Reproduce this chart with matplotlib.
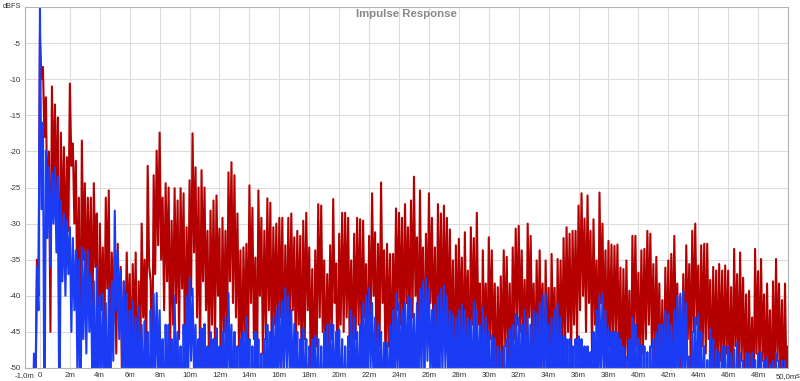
import numpy as np
import matplotlib
matplotlib.use("Agg")
import matplotlib.pyplot as plt

plt.rcParams['font.family'] = ['Liberation Sans', 'DejaVu Sans']

# peak / dip levels (dBFS), one pair every 0.2 ms starting at -1.0 ms
red_peak = [
    -60, -60, -60, -50, -35, -4.2, -8.3, -12.5, -20, -11,
    -13.5, -15.3, -17.4, -19.4, -20.8, -10.6, -18.9, -21.3, -26.4, -18.5,
    -24.4, -26.4, -26.4, -24.4, -28.6, -30, -33.3, -26.4, -25.4, -34,
    -34.5, -32.8, -36, -38, -34, -37, -35.6, -34, -38, -30,
    -35, -22, -38, -23.3, -19.9, -17.4, -26.4, -24.4, -25, -29.6,
    -25.1, -26.8, -25.1, -25.8, -30.5, -24, -17.5, -22.2, -25, -22.6,
    -25, -31, -28.2, -26.8, -26.1, -30.7, -29.2, -31, -22.9, -21.5,
    -23.3, -28.6, -33.7, -33.3, -32.8, -24.7, -27.8, -34.7, -25.4, -29.2,
    -31, -26.5, -27.1, -30.5, -30, -29.2, -29.2, -33, -29.2, -28.6,
    -31.9, -31, -31.7, -29.6, -28.5, -33.3, -36.3, -33.7, -27.3, -27.5,
    -35.1, -37, -33, -26.6, -35.5, -31.4, -28.5, -28.5, -29.2, -35.1,
    -31.4, -29.2, -29.4, -29.6, -35.6, -31.7, -25.8, -31.2, -32.8, -24.3,
    -33.7, -32.8, -34.2, -34.2, -27.9, -28.5, -29.2, -27.3, -30.5, -26.8,
    -23.5, -31.9, -25.4, -33.3, -31.4, -25.8, -29.2, -33.3, -27.3, -28.6,
    -27.5, -29.2, -30.8, -35.1, -33, -32.1, -34.7, -31.2, -36.5, -30.5,
    -32, -28.5, -38.3, -33.7, -38.3, -31.9, -33.7, -38.3, -38.8, -37.3,
    -33.7, -34.6, -38.3, -33.3, -30.7, -30.3, -33.7, -37.8, -30, -31.7,
    -38.3, -35.1, -33.7, -38.3, -35.1, -38.9, -34.2, -38.9, -34.9, -35.1,
    -32, -30.5, -31.4, -31, -31, -27.5, -25.8, -29.3, -26.1, -31,
    -29.4, -35.1, -25.7, -30, -33.7, -32.4, -32.9, -33.1, -32.9, -36.1,
    -36.3, -35.1, -39.3, -31.7, -31.7, -36.8, -33.7, -33.5, -31, -31.4,
    -35.6, -34.6, -38.3, -40.6, -36.1, -35.1, -34.2, -31.7, -38.3, -40.2,
    -37, -33, -35.6, -31, -30, -35.8, -33, -32.8, -32.8, -37.8,
    -36, -36.5, -35.6, -36.5, -35.8, -36.5, -38.8, -33.5, -37, -34,
    -37.5, -39.8, -39.3, -43, -33.5, -36.6, -34.9, -39.8, -38.3, -42,
    -38, -34.9, -38.3, -40.6, -38.3, -47,
]
red_dip = [
    -60, -60, -60, -55, -40, -10, -18, -30, -45, -25,
    -28, -52, -33, -36, -31, -22, -30, -42, -55, -35,
    -40, -38, -45, -36, -55, -42, -47, -39, -52, -44,
    -48, -44, -56, -47, -45, -52, -46, -58, -49, -43,
    -50, -36, -54, -37, -33, -35, -42, -38, -48, -44,
    -41, -46, -39, -52, -45, -40, -34, -43, -49, -38,
    -42, -50, -44, -47, -40, -53, -45, -48, -38, -41,
    -43, -47, -52, -45, -49, -41, -46, -55, -40, -48,
    -46, -42, -50, -44, -47, -43, -51, -48, -45, -42,
    -49, -44, -53, -46, -42, -50, -56, -47, -43, -45,
    -52, -48, -46, -41, -55, -44, -45, -43, -47, -50,
    -46, -44, -48, -43, -53, -45, -40, -49, -47, -41,
    -50, -47, -52, -46, -42, -44, -48, -41, -45, -43,
    -40, -49, -42, -51, -45, -41, -46, -53, -44, -47,
    -43, -46, -48, -54, -47, -45, -52, -46, -55, -44,
    -48, -44, -56, -47, -52, -46, -49, -55, -51, -50,
    -47, -50, -54, -46, -44, -45, -48, -53, -43, -47,
    -52, -48, -46, -55, -49, -53, -47, -56, -48, -50,
    -47, -45, -49, -44, -46, -42, -40, -45, -41, -48,
    -44, -52, -41, -46, -50, -47, -48, -45, -49, -53,
    -51, -49, -56, -45, -47, -52, -48, -46, -44, -47,
    -50, -48, -53, -57, -49, -51, -47, -45, -52, -55,
    -51, -46, -50, -45, -44, -52, -47, -48, -46, -53,
    -50, -52, -49, -51, -48, -53, -55, -47, -52, -49,
    -52, -55, -53, -58, -48, -51, -49, -54, -52, -57,
    -53, -49, -52, -56, -53, -60,
]

blue_peak = [
    -60, -60, -60, -48, -36, 0, -16, -19.9, -22.2, -23,
    -22.2, -23.5, -26.8, -28.6, -29.5, -30.5, -32, -33.7, -35, -33.3,
    -34, -33.7, -37, -38, -36, -40, -39.7, -41, -39, -38,
    -28.2, -33.7, -36.5, -38, -39.7, -42, -40.7, -43, -41.5, -44,
    -43.5, -45, -42, -39.7, -39.6, -42, -46, -44, -44, -46,
    -40, -45, -47, -44, -40, -37.5, -39, -44, -46, -44.5,
    -43.9, -47, -45, -46, -44.5, -47, -45, -43, -39.6, -44,
    -45, -47, -46, -45, -43, -46, -47, -45, -46, -48,
    -46, -44, -45, -43, -42, -41, -40.7, -38.9, -40, -42,
    -43.9, -45, -46, -44.5, -46, -47, -46, -45.5, -46, -47,
    -45, -44, -43.9, -44, -45, -44.7, -46, -47, -45.6, -42,
    -43, -45, -44, -41, -40, -38.9, -41, -43, -43.9, -45,
    -46.5, -46.5, -44, -42, -39.7, -41, -42, -41, -40, -40.4,
    -42.5, -41, -39, -38, -37.5, -39, -42, -41.2, -40, -39,
    -38.6, -40, -42, -42.5, -43, -42, -41.2, -42, -43, -43.5,
    -40.7, -42, -44, -41.6, -43, -45, -45.5, -45.9, -47, -47.8,
    -47, -46, -44.6, -44, -42.5, -43, -44, -42, -43, -44,
    -42, -42.5, -41, -40, -39.7, -43.9, -43, -42, -41.1, -43,
    -45.5, -46, -46, -47, -46, -45.6, -46, -47, -47, -47.8,
    -45, -42, -40, -39.7, -42, -44.4, -45, -45, -45.1, -46,
    -47, -48.5, -46, -43, -44, -46, -46.8, -47, -47.8, -47,
    -46, -45.1, -44, -44, -42, -42.5, -43.9, -42, -40, -39.7,
    -39.3, -41, -48.4, -45, -43, -42.5, -45, -47, -48.9, -44.6,
    -46, -47.4, -47.8, -47, -47, -47, -48, -47.4, -46.5, -48,
    -49, -48, -48, -47.8, -48.9, -48, -47.8, -49, -48.5, -49.5,
    -49, -48, -49, -49, -49, -50,
]
blue_dip = [
    -60, -60, -60, -52, -42, -28, -60, -32, -36, -30,
    -34, -60, -38, -40, -37, -45, -42, -50, -60, -46,
    -48, -45, -52, -60, -50, -55, -52, -60, -53, -49,
    -42, -46, -50, -53, -55, -58, -52, -60, -54, -57,
    -56, -60, -55, -52, -51, -57, -60, -55, -58, -60,
    -53, -58, -60, -56, -52, -49, -51, -57, -60, -56,
    -55, -60, -57, -58, -56, -60, -58, -54, -51, -56,
    -57, -60, -58, -57, -55, -59, -60, -56, -58, -60,
    -58, -55, -57, -54, -53, -52, -51, -50, -52, -54,
    -55, -57, -59, -56, -58, -60, -58, -57, -58, -60,
    -57, -56, -55, -56, -57, -56, -58, -60, -57, -54,
    -55, -57, -56, -53, -52, -50, -53, -55, -56, -57,
    -59, -58, -56, -54, -51, -53, -54, -53, -52, -52,
    -54, -53, -51, -50, -49, -51, -54, -53, -52, -51,
    -50, -52, -54, -55, -55, -54, -53, -54, -55, -56,
    -52, -54, -56, -53, -55, -57, -58, -58, -60, -60,
    -60, -58, -56, -56, -54, -55, -56, -54, -55, -56,
    -54, -55, -53, -52, -51, -56, -55, -54, -53, -55,
    -57, -58, -58, -60, -58, -57, -58, -60, -60, -60,
    -57, -54, -52, -51, -54, -56, -57, -57, -57, -58,
    -59, -60, -58, -55, -56, -58, -59, -60, -60, -59,
    -58, -57, -56, -56, -54, -54, -56, -54, -52, -51,
    -51, -53, -60, -57, -55, -54, -57, -59, -60, -56,
    -58, -60, -60, -59, -59, -59, -60, -59, -58, -60,
    -60, -60, -60, -60, -60, -60, -60, -60, -60, -60,
    -60, -60, -60, -60, -60, -60,
]

x_ticks = [-1] + list(range(0, 51, 2))
x_labels = ["-1,0m", "0"] + ["%dm" % v for v in range(2, 49, 2)] + [""]
y_ticks = list(range(-50, 0, 5))


def trace(peaks, dips):
    t = np.arange(len(peaks)) * 0.2 - 1.0
    xs = np.empty(2 * len(peaks))
    ys = np.empty(2 * len(peaks))
    xs[0::2] = t
    xs[1::2] = t + 0.1
    ys[0::2] = peaks
    ys[1::2] = dips
    return xs, ys


fig = plt.figure(figsize=(8, 3.81), dpi=100)
ax = fig.add_axes([25 / 800, 1 - 368 / 381, 763 / 800, 361 / 381])

xr, yr = trace(red_peak, red_dip)
xb, yb = trace(blue_peak, blue_dip)
ax.plot(xr, yr, color="#b40000", lw=1.5)
ax.plot(xb, yb, color="#1a3cf5", lw=1.5)

ax.set_xlim(-1, 50)
ax.set_ylim(-50, 0)
ax.set_xticks(x_ticks)
ax.set_xticklabels(x_labels)
ax.set_yticks(y_ticks)
ax.set_yticklabels([str(v) for v in y_ticks])
ax.tick_params(length=0, labelsize=5.6, colors="#333333", pad=3)
ax.grid(True, color="#dcdcdc", lw=0.8)
ax.set_axisbelow(True)
for s in ax.spines.values():
    s.set_color("#b4b4b4")
    s.set_linewidth(0.8)

ax.text(0.5, 0.995, "Impulse Response", transform=ax.transAxes, ha="center",
        va="top", fontsize=8.2, fontweight="bold", color="#888888")
fig.text(3 / 800, 1 - 3 / 381, "dBFS", ha="left", va="top", fontsize=5.3, color="#333333")
fig.text(776 / 800, 1 - 377 / 381, "50,0m", ha="left", va="center", fontsize=5.6, color="#333333")
fig.text(800 / 800, 1 - 377 / 381, "s", ha="right", va="center", fontsize=5.6, color="#333333")

fig.savefig("out.png", dpi=100)
